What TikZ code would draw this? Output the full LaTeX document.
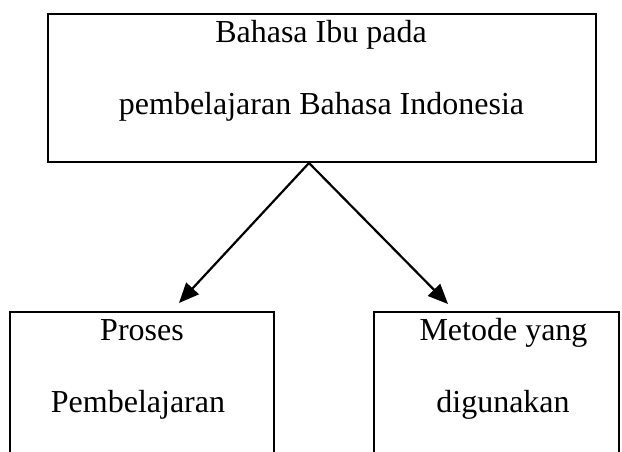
\documentclass[tikz,border=0pt]{standalone}
\usepackage{fontspec}
\setmainfont{Liberation Serif}
\usetikzlibrary{arrows.meta}
\tikzset{
  boxnode/.style={draw=black, line width=2.7pt, rectangle, inner sep=0pt, fill=none},
  txt/.style={anchor=base, inner sep=0pt, font=\fontsize{32}{38}\selectfont},
  conn/.style={line width=2.2pt, -{Triangle[length=20pt,width=17pt]}}
}
\begin{document}
\begin{tikzpicture}[x=1pt,y=-1pt]
\useasboundingbox[fill=white] (0,0) rectangle (622,452);
\clip (0,0) rectangle (622,452);
% boxes
\node[boxnode, minimum width=548pt, minimum height=148pt] (top) at (322,88) {};
\node[boxnode, minimum width=264pt, minimum height=170pt] (left) at (142,397) {};
\node[boxnode, minimum width=245pt, minimum height=170pt] (right) at (496.5,397) {};
% texts
\node[txt] (t1) at (321,43) {Bahasa Ibu pada};
\node[txt] (t2) at (321.5,115) {pembelajaran Bahasa Indonesia};
\node[txt] (l1) at (142,340) {Proses};
\node[txt] (l2) at (138,412) {Pembelajaran};
\node[txt] (r1) at (503.5,340) {Metode yang};
\node[txt] (r2) at (503,412) {digunakan};
% connectors
\coordinate (apex) at (309,163);
\coordinate (tipL) at (179,303);
\coordinate (tipR) at (448,304);
\draw[conn] (apex) -- (tipL);
\draw[conn] (apex) -- (tipR);
\end{tikzpicture}
\end{document}
